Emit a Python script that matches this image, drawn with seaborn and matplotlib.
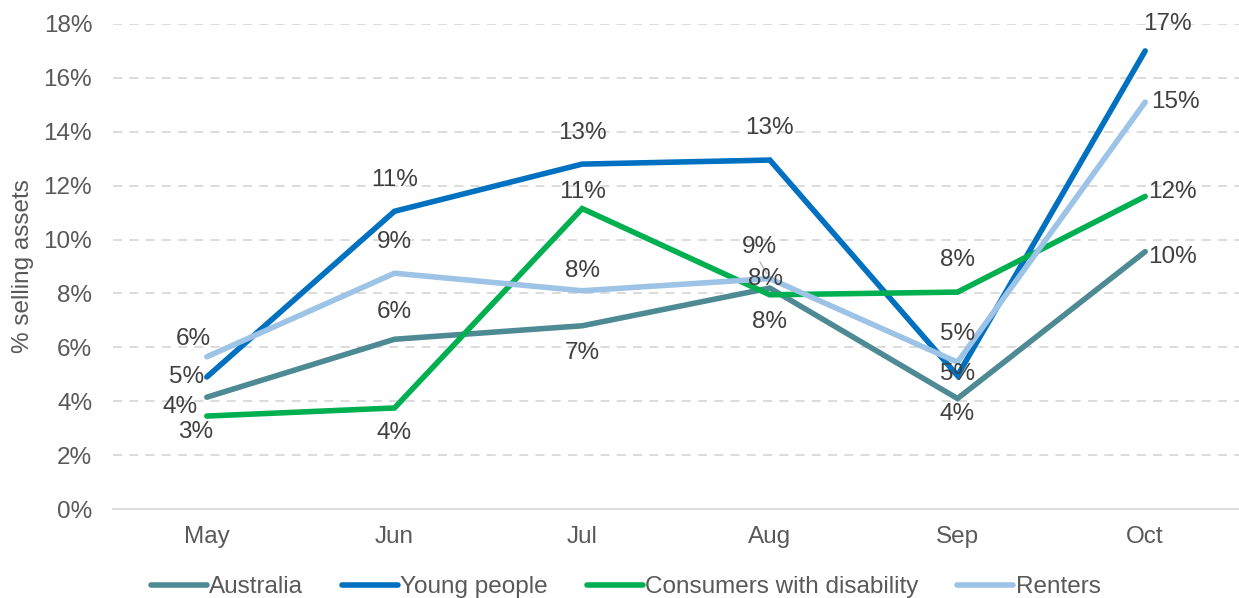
import matplotlib
matplotlib.use("Agg")
import matplotlib.pyplot as plt
import seaborn as sns
import pandas as pd
from matplotlib.ticker import FuncFormatter

months = ["May", "Jun", "Jul", "Aug", "Sep", "Oct"]
australia = [4.15, 6.3, 6.8, 8.2, 4.1, 9.55]
young_people = [4.9, 11.05, 12.8, 12.95, 4.95, 17.0]
disability = [3.45, 3.75, 11.15, 7.95, 8.05, 11.6]
renters = [5.65, 8.75, 8.1, 8.55, 5.45, 15.1]

series_names = ["Australia", "Young people", "Consumers with disability", "Renters"]
series_values = [australia, young_people, disability, renters]
colors = ["#4E8A93", "#0070C0", "#00B050", "#9DC3E6"]

# label offsets (pixels) relative to each point
label_offsets = {
    "Australia": [(-27, -10), (0, 27), (0, -27), (0, -34), (0, -15), (27, -5)],
    "Young people": [(-20, 0), (0, 31), (0, 31), (0, 32), (0, 2), (22, 27)],
    "Consumers with disability": [(-11, -16), (0, -25), (0, 17), (-4, 16), (0, 32), (27, 4)],
    "Renters": [(-14, 18), (0, 31), (0, 20), (-10, 32), (0, 28), (30, 0)],
}

df = pd.concat(
    [pd.DataFrame({"month": months, "value": vals, "series": name})
     for name, vals in zip(series_names, series_values)],
    ignore_index=True,
)
df["x"] = df["month"].map({m: i for i, m in enumerate(months)})

sns.set_theme(style="white")
plt.rcParams["font.family"] = ["Liberation Sans", "DejaVu Sans"]
FS = 17.5
LW = 4.0

fig = plt.figure(figsize=(12.39, 5.98), dpi=100)
ax = fig.add_axes([0.0912, 0.1488, 0.9088, 0.8111])

sns.lineplot(data=df, x="x", y="value", hue="series", hue_order=series_names,
             palette=colors, linewidth=LW, ax=ax, legend=False,
             solid_capstyle="round", solid_joinstyle="miter")

ax.set_xlim(-0.5, 5.5)
ax.set_ylim(0, 18)
ax.set_yticks(range(0, 19, 2))
ax.yaxis.set_major_formatter(FuncFormatter(lambda v, _: f"{v:.0f}%"))
ax.set_xticks(range(len(months)))
ax.set_xticklabels(months)
ax.set_xlabel("")
ax.set_ylabel("% selling assets", fontsize=FS, color="#595959")
ax.yaxis.set_label_coords(-0.07, 0.5)
ax.tick_params(axis="both", labelsize=FS, colors="#595959", length=0)
ax.tick_params(axis="y", pad=15)
ax.tick_params(axis="x", pad=12)

for y in range(2, 19, 2):
    ax.axhline(y, color="#D9D9D9", linewidth=1.3, dashes=(5, 4), zorder=0)
for side in ["left", "right", "top"]:
    ax.spines[side].set_visible(False)
ax.spines["bottom"].set_color("#D9D9D9")
ax.spines["bottom"].set_linewidth(1.3)

for name, vals in zip(series_names, series_values):
    for i, v in enumerate(vals):
        dx, dy = label_offsets[name][i]
        ax.annotate(f"{v:.0f}%", (i, v), xytext=(dx, dy), textcoords="offset pixels",
                    ha="center", va="center", fontsize=FS, color="#404040",
                    annotation_clip=False, zorder=5)

# leader line for the Renters August label
ax.annotate("", (3, renters[3]), xytext=(-10, 17), textcoords="offset pixels",
            arrowprops=dict(arrowstyle="-", color="#A6A6A6", lw=0.8,
                            shrinkA=0, shrinkB=4))

handles = [plt.Line2D([], [], color=c, linewidth=LW, solid_capstyle="round")
           for c in colors]
fig.legend(handles, series_names, loc="center", bbox_to_anchor=(0.505, 0.018),
           ncol=4, frameon=False, fontsize=FS, handlelength=2.3,
           handletextpad=0.1, columnspacing=1.6, labelcolor="#595959")

fig.savefig("out.png", dpi=100)
